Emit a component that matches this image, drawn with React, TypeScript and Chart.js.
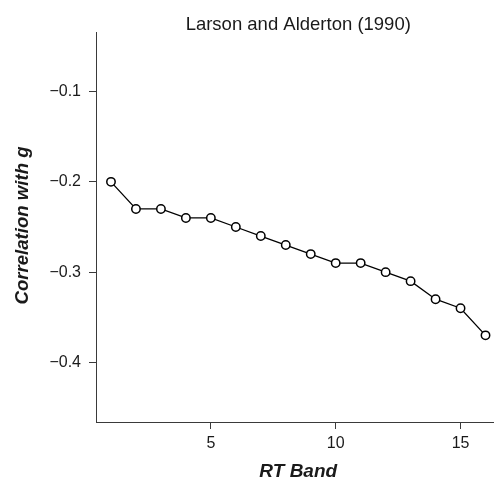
import React, { useEffect, useRef } from "react";
import { Chart, registerables } from "chart.js";

Chart.register(...registerables);

const rtBands = [1, 2, 3, 4, 5, 6, 7, 8, 9, 10, 11, 12, 13, 14, 15, 16];
const correlations = [-0.2, -0.23, -0.23, -0.24, -0.24, -0.25, -0.26, -0.27, -0.28, -0.29, -0.29, -0.3, -0.31, -0.33, -0.34, -0.37];
const yTickValues = [-0.4, -0.3, -0.2, -0.1];
const xTickValues = [5, 10, 15];
const chartTitle = "Larson and Alderton (1990)";
const xTitle = "RT Band";
const yTitle = "Correlation with g";

const FONT = "'Liberation Sans', Arial, Helvetica, sans-serif";
const INK = "#1a1a1a";
const AXIS = "#3a3a3a";

const titlesPlugin = {
  id: "titles",
  afterDraw(chart: any) {
    const { ctx } = chart;
    const x = chart.scales.x;
    const y = chart.scales.y;
    const cx = x.getPixelForValue(8.5);
    ctx.save();
    ctx.fillStyle = INK;
    ctx.textAlign = "center";
    ctx.textBaseline = "alphabetic";
    ctx.font = `18.5px ${FONT}`;
    ctx.fillText(chartTitle, cx, 30);
    ctx.font = `italic bold 19px ${FONT}`;
    ctx.fillText(xTitle, cx, 477);
    ctx.font = `italic bold 18.6px ${FONT}`;
    ctx.translate(28, (y.top + y.bottom) / 2 - 1.5);
    ctx.rotate(-Math.PI / 2);
    ctx.fillText(yTitle, 0, 0);
    ctx.restore();
  },
};

export default function App() {
  const ref = useRef<HTMLCanvasElement>(null);
  useEffect(() => {
    if (!ref.current) return;
    const chart = new Chart(ref.current, {
      type: "line",
      data: {
        datasets: [
          {
            data: rtBands.map((b, i) => ({ x: b, y: correlations[i] })),
            borderColor: "#000",
            borderWidth: 1.3,
            pointRadius: 4.2,
            pointBorderWidth: 1.5,
            pointBackgroundColor: "#fff",
            pointBorderColor: "#000",
            tension: 0,
            clip: false,
          },
        ],
      },
      options: {
        animation: false,
        responsive: false,
        devicePixelRatio: 1,
        layout: { autoPadding: false, padding: { top: 32, left: 0, right: 0, bottom: 0 } },
        plugins: { legend: { display: false }, tooltip: { enabled: false }, title: { display: false } },
        scales: {
          x: {
            type: "linear",
            min: 0.4,
            max: 16.34,
            afterBuildTicks: (s: any) => {
              s.ticks = xTickValues.map((v) => ({ value: v }));
            },
            afterFit: (s: any) => {
              s.height = 60;
            },
            grid: { drawOnChartArea: false, drawTicks: true, tickLength: 7, color: AXIS, lineWidth: 1 },
            border: { display: true, color: AXIS, width: 1 },
            ticks: { color: INK, font: { family: FONT, size: 16 }, padding: 5, autoSkip: false, maxRotation: 0, callback: (v: any) => String(v) },
          },
          y: {
            type: "linear",
            min: -0.466,
            max: -0.034,
            afterBuildTicks: (s: any) => {
              s.ticks = yTickValues.map((v) => ({ value: v }));
            },
            afterFit: (s: any) => {
              s.width = 96;
            },
            grid: { drawOnChartArea: false, drawTicks: true, tickLength: 7, color: AXIS, lineWidth: 1 },
            border: { display: true, color: AXIS, width: 1 },
            ticks: {
              color: INK,
              font: { family: FONT, size: 16 },
              padding: 8,
              callback: (v: any) => "\u2212" + Math.abs(Number(v)).toFixed(1),
            },
          },
        },
      },
      plugins: [titlesPlugin],
    });
    return () => chart.destroy();
  }, []);
  return (
    <div style={{ position: "absolute", left: 0, top: 0, width: 494, height: 482, background: "#fff" }}>
      <canvas ref={ref} width={494} height={482} style={{ display: "block" }} />
    </div>
  );
}
